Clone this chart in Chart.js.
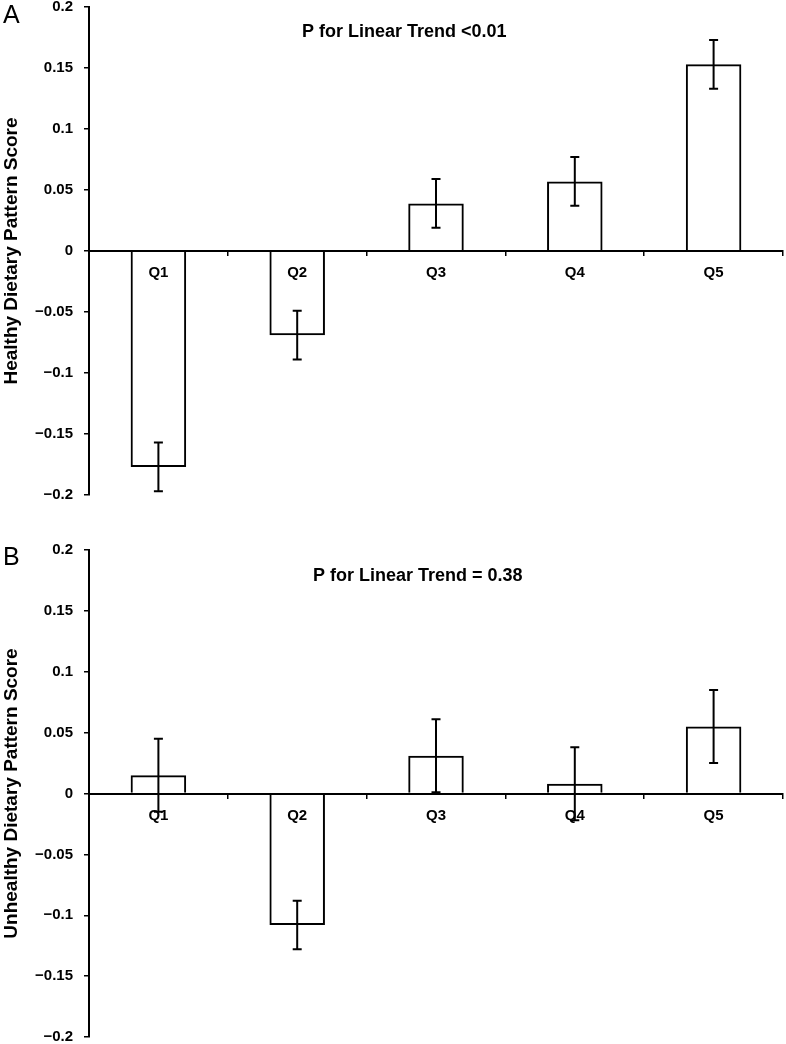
<!DOCTYPE html>
<html>
<head>
<meta charset="utf-8">
<script src="https://cdn.jsdelivr.net/npm/chart.js@4"></script>
<style>
  body { margin: 0; background: #fff; }
  canvas { display: block; }
</style>
</head>
<body>
<canvas id="chartA" width="786" height="522"></canvas>
<canvas id="chartB" width="786" height="522"></canvas>
<script>
const quintiles = ["Q1", "Q2", "Q3", "Q4", "Q5"];
const healthyMeans = [-0.177, -0.069, 0.039, 0.057, 0.153];
const healthyErrors = [0.02, 0.02, 0.02, 0.02, 0.02];
const unhealthyMeans = [0.015, -0.108, 0.031, 0.008, 0.055];
const unhealthyErrors = [0.03, 0.02, 0.03, 0.03, 0.03];
const yTicks = [-0.2, -0.15, -0.1, -0.05, 0, 0.05, 0.1, 0.15, 0.2];

const FONT = "'Liberation Sans', Arial, sans-serif";

// error bars drawn from the scales after the bars
const errorBars = {
  id: "errorBars",
  afterDatasetsDraw(chart, args, opts) {
    const ctx = chart.ctx;
    const x = chart.scales.x;
    const y = chart.scales.y;
    const means = chart.data.datasets[0].data;
    ctx.save();
    ctx.strokeStyle = "#000";
    ctx.lineWidth = 2;
    means.forEach((v, i) => {
      const e = opts.errors[i];
      const px = x.getPixelForValue(i);
      const top = y.getPixelForValue(v + e);
      const bot = y.getPixelForValue(v - e);
      ctx.beginPath();
      ctx.moveTo(px, top);
      ctx.lineTo(px, bot);
      ctx.moveTo(px - 4.5, top);
      ctx.lineTo(px + 4.5, top);
      ctx.moveTo(px - 4.5, bot);
      ctx.lineTo(px + 4.5, bot);
      ctx.stroke();
    });
    ctx.restore();
  }
};

// panel letter and trend text
const panelText = {
  id: "panelText",
  afterDraw(chart, args, opts) {
    const ctx = chart.ctx;
    ctx.save();
    ctx.fillStyle = "#000";
    ctx.textBaseline = "alphabetic";
    ctx.textAlign = "left";
    ctx.font = "25px " + FONT;
    ctx.fillText(opts.letter, 3, opts.letterY);
    ctx.font = "bold 18px " + FONT;
    ctx.fillText(opts.trend, opts.trendX, opts.trendY);
    ctx.restore();
  }
};

function makeChart(id, means, errors, axisTitle, letter, trend, layout) {
  return new Chart(document.getElementById(id), {
    type: "bar",
    data: {
      labels: quintiles,
      datasets: [{
        data: means,
        backgroundColor: "rgba(255,255,255,0)",
        borderColor: "#000",
        borderWidth: 2,
        categoryPercentage: 1,
        barPercentage: 0.4
      }]
    },
    options: {
      responsive: false,
      animation: false,
      layout: { padding: layout.padding },
      plugins: {
        legend: { display: false },
        tooltip: { enabled: false },
        errorBars: { errors: errors },
        panelText: { letter: letter, letterY: layout.letterY, trend: trend, trendX: layout.trendX, trendY: layout.trendY }
      },
      scales: {
        x: {
          type: "category",
          position: { y: 0 },
          afterFit: (s) => { s.height = 0; s.paddingLeft = 0; s.paddingRight = 0; },
          grid: { drawOnChartArea: false, drawTicks: true, tickLength: 4, color: "#000", lineWidth: 1.5, offset: true },
          border: { display: true, color: "#000", width: 2 },
          ticks: { color: "#000", padding: 9, maxRotation: 0, font: { family: FONT, size: 15, weight: "bold" } }
        },
        y: {
          position: "left",
          min: -0.2,
          max: 0.2,
          afterFit: (s) => { s.width = 89; s.paddingTop = 0; s.paddingBottom = 0; },
          afterBuildTicks: (s) => { s.ticks = yTicks.map(v => ({ value: v })); },
          grid: { drawOnChartArea: false, drawTicks: true, tickLength: 5, color: "#000", lineWidth: 1.5 },
          border: { display: true, color: "#000", width: 2 },
          ticks: {
            color: "#000",
            padding: 11,
            font: { family: FONT, size: 15, weight: "bold" },
            callback: (v) => {
              const r = Math.round(v * 100) / 100;
              return r < 0 ? "\u2212" + String(-r) : String(r);
            }
          },
          title: {
            display: true,
            text: axisTitle,
            color: "#000",
            padding: 0,
            font: { family: FONT, size: 19, weight: "bold" }
          }
        }
      }
    },
    plugins: [errorBars, panelText]
  });
}

makeChart("chartA", healthyMeans, healthyErrors, "Healthy Dietary Pattern Score", "A",
  "P for Linear Trend <0.01",
  { padding: { top: 7, bottom: 27, left: 0, right: 3 }, letterY: 23, trendX: 302, trendY: 37 });

makeChart("chartB", unhealthyMeans, unhealthyErrors, "Unhealthy Dietary Pattern Score", "B",
  "P for Linear Trend = 0.38",
  { padding: { top: 28, bottom: 7, left: 0, right: 3 }, letterY: 43, trendX: 313, trendY: 59 });
</script>
</body>
</html>
